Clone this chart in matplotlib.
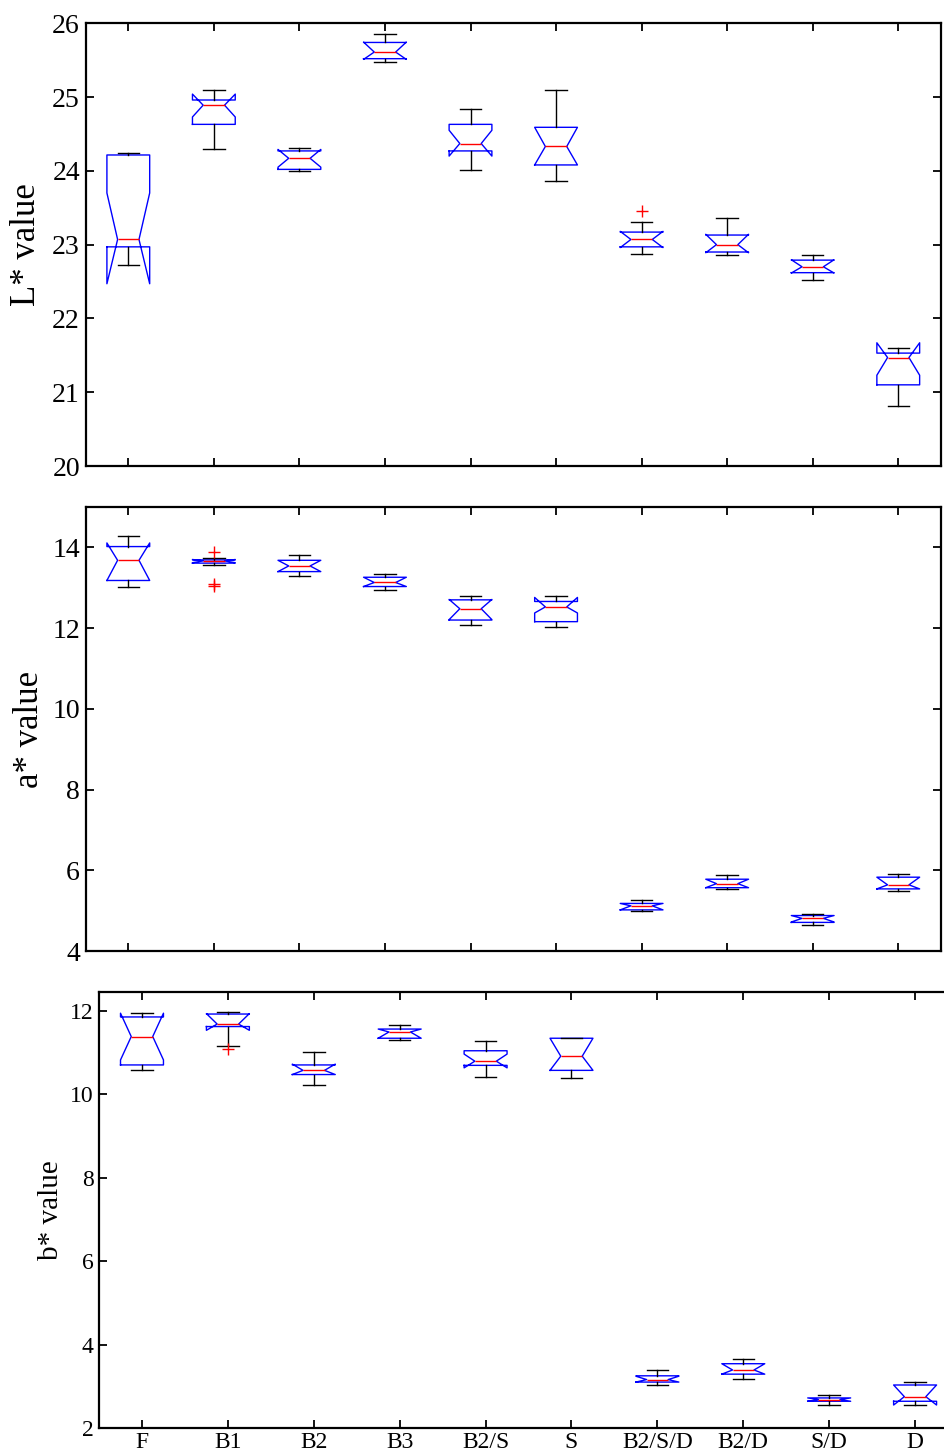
import matplotlib
matplotlib.use("Agg")
import matplotlib.pyplot as plt

plt.rcParams["font.family"] = ["Liberation Serif", "DejaVu Serif"]

groups = ["F", "B1", "B2", "B3", "B2/S", "S", "B2/S/D", "B2/D", "S/D", "D"]

# L* value: per-group box statistics
L_whislo = [22.73, 24.29, 24.00, 25.47, 24.01, 23.86, 22.87, 22.86, 22.52, 20.81]
L_q1     = [22.97, 24.63, 24.02, 25.52, 24.27, 24.08, 22.97, 22.90, 22.62, 21.10]
L_cilo   = [22.47, 24.73, 24.05, 25.51, 24.20, 24.08, 22.96, 22.89, 22.615, 21.23]
L_med    = [23.07, 24.89, 24.17, 25.61, 24.37, 24.33, 23.07, 23.00, 22.70, 21.47]
L_cihi   = [23.70, 25.04, 24.29, 25.745, 24.55, 24.59, 23.18, 23.14, 22.795, 21.67]
L_q3     = [24.215, 24.96, 24.27, 25.74, 24.63, 24.59, 23.17, 23.13, 22.79, 21.53]
L_whishi = [24.24, 25.10, 24.31, 25.86, 24.84, 25.10, 23.30, 23.36, 22.86, 21.60]
L_fliers = [[], [], [], [], [], [], [23.45], [], [], []]

# a* value
a_whislo = [13.01, 13.57, 13.29, 12.95, 12.08, 12.02, 5.00, 5.53, 4.64, 5.50]
a_q1     = [13.18, 13.61, 13.40, 13.03, 12.20, 12.16, 5.02, 5.57, 4.71, 5.54]
a_cilo   = [13.18, 13.62, 13.40, 13.03, 12.21, 12.375, 5.02, 5.57, 4.72, 5.54]
a_med    = [13.68, 13.665, 13.54, 13.13, 12.48, 12.525, 5.12, 5.67, 4.81, 5.64]
a_cihi   = [14.11, 13.70, 13.68, 13.26, 12.71, 12.76, 5.18, 5.78, 4.88, 5.83]
a_q3     = [14.02, 13.69, 13.68, 13.26, 12.70, 12.66, 5.18, 5.78, 4.88, 5.83]
a_whishi = [14.27, 13.73, 13.81, 13.34, 12.79, 12.79, 5.26, 5.88, 4.91, 5.92]
a_fliers = [[], [13.875, 13.09, 13.05], [], [], [], [], [], [], [], []]

# b* value
b_whislo = [10.59, 11.165, 10.22, 11.29, 10.42, 10.39, 3.02, 3.18, 2.56, 2.56]
b_q1     = [10.70, 11.62, 10.47, 11.34, 10.69, 10.57, 3.10, 3.29, 2.64, 2.64]
b_cilo   = [10.82, 11.53, 10.47, 11.34, 10.63, 10.57, 3.10, 3.29, 2.64, 2.55]
b_med    = [11.38, 11.68, 10.57, 11.49, 10.79, 10.91, 3.16, 3.39, 2.68, 2.75]
b_cihi   = [11.94, 11.93, 10.72, 11.56, 10.96, 11.34, 3.24, 3.54, 2.72, 3.03]
b_q3     = [11.85, 11.92, 10.70, 11.56, 11.04, 11.34, 3.25, 3.54, 2.72, 3.03]
b_whishi = [11.95, 11.97, 11.00, 11.65, 11.28, 11.34, 3.40, 3.65, 2.78, 3.09]
b_fliers = [[], [11.08], [], [], [], [], [], [], [], []]


def make_stats(whislo, q1, cilo, med, cihi, q3, whishi, fliers):
    return [dict(whislo=a, q1=b, cilo=c, med=d, cihi=e, q3=f, whishi=g, fliers=h)
            for a, b, c, d, e, f, g, h in zip(whislo, q1, cilo, med, cihi, q3, whishi, fliers)]


panels = [
    dict(stats=make_stats(L_whislo, L_q1, L_cilo, L_med, L_cihi, L_q3, L_whishi, L_fliers),
         rect=[0.0905, 0.6795, 0.9053, 0.3045], ylim=(20, 26), yticks=range(20, 27),
         ylabel="L* value", ylab_size=25, ytick_size=20, labx=-0.069, xlabels=False),
    dict(stats=make_stats(a_whislo, a_q1, a_cilo, a_med, a_cihi, a_q3, a_whishi, a_fliers),
         rect=[0.0905, 0.3459, 0.9053, 0.3054], ylim=(4, 15), yticks=range(4, 15, 2),
         ylabel="a* value", ylab_size=25, ytick_size=20, labx=-0.066, xlabels=False),
    dict(stats=make_stats(b_whislo, b_q1, b_cilo, b_med, b_cihi, b_q3, b_whishi, b_fliers),
         rect=[0.1048, 0.0179, 0.909, 0.2999], ylim=(2, 12.45), yticks=range(2, 13, 2),
         ylabel="b* value", ylab_size=21, ytick_size=17, labx=-0.056, xlabels=True),
]

fig = plt.figure(figsize=(9.45, 14.54), dpi=100)
positions = list(range(1, len(groups) + 1))

for p in panels:
    ax = fig.add_axes(p["rect"])
    ax.bxp(p["stats"], positions=positions, widths=0.5, shownotches=True,
           boxprops=dict(color="#0000ff", linewidth=1.0),
           medianprops=dict(color="#ff0000", linewidth=1.0),
           whiskerprops=dict(color="black", linewidth=1.0),
           capprops=dict(color="black", linewidth=1.0),
           flierprops=dict(marker="+", markeredgecolor="#ff0000", markersize=8,
                           markeredgewidth=1.0, linestyle="none"),
           manage_ticks=False)
    ax.set_xlim(0.5, len(groups) + 0.5)
    ax.set_ylim(*p["ylim"])
    ax.set_yticks(list(p["yticks"]))
    ax.set_xticks(positions)
    if p["xlabels"]:
        ax.set_xticklabels(groups, fontsize=17)
    else:
        ax.set_xticklabels([])
    for s in ax.spines.values():
        s.set_linewidth(1.6)
    ax.tick_params(direction="in", length=6, width=1.3, top=True, right=True,
                   labelsize=p["ytick_size"], pad=4)
    ax.tick_params(axis="x", labelsize=17, pad=3)
    ax.set_ylabel(p["ylabel"], fontsize=p["ylab_size"], va="center")
    ax.yaxis.set_label_coords(p["labx"], 0.5)

fig.savefig("out.png", dpi=100)
